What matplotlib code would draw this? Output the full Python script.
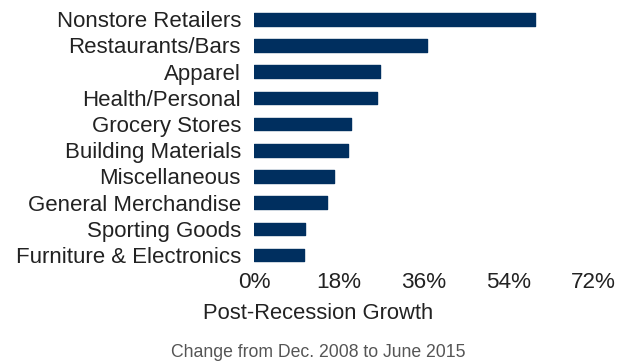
import matplotlib
matplotlib.use('Agg')
import matplotlib.pyplot as plt
from matplotlib.ticker import FuncFormatter

plt.rcParams['font.family'] = ['Liberation Sans', 'DejaVu Sans']

categories = ['Nonstore Retailers', 'Restaurants/Bars', 'Apparel', 'Health/Personal',
              'Grocery Stores', 'Building Materials', 'Miscellaneous',
              'General Merchandise', 'Sporting Goods', 'Furniture & Electronics']
growth = [59.5, 36.6, 26.7, 26.0, 20.6, 19.8, 16.9, 15.4, 10.7, 10.5]
xticks = [0, 18, 36, 54, 72]

navy = '#002F5F'
text_col = '#222222'

fig = plt.figure(figsize=(6.29, 3.62), dpi=100)
ax = fig.add_axes([0.404, 0.2594, 0.54, 0.7236])

ypos = list(range(len(categories)))
ax.barh(ypos, growth, height=0.48, color=navy, edgecolor=navy, linewidth=1,
        joinstyle='round')
ax.set_ylim(len(categories) - 0.5, -0.5)
ax.set_xlim(0, 72)
ax.set_yticks(ypos)
ax.set_yticklabels(categories)
ax.set_xticks(xticks)
ax.xaxis.set_major_formatter(FuncFormatter(lambda v, p: f'{v:.0f}%'))
ax.tick_params(axis='both', length=0, colors=text_col)
ax.tick_params(axis='y', pad=9.5, labelsize=16)
ax.tick_params(axis='x', pad=3, labelsize=16.2)
for s in ax.spines.values():
    s.set_visible(False)

# axis title and note sit centred on the whole figure
fig.text(0.5056, 0.135, 'Post-Recession Growth', ha='center', va='center',
         fontsize=15.8, color=text_col)
fig.text(0.5056, 0.0276, 'Change from Dec. 2008 to June 2015', ha='center',
         va='center', fontsize=12.7, color='#555555')

fig.savefig('out.png', dpi=100)
